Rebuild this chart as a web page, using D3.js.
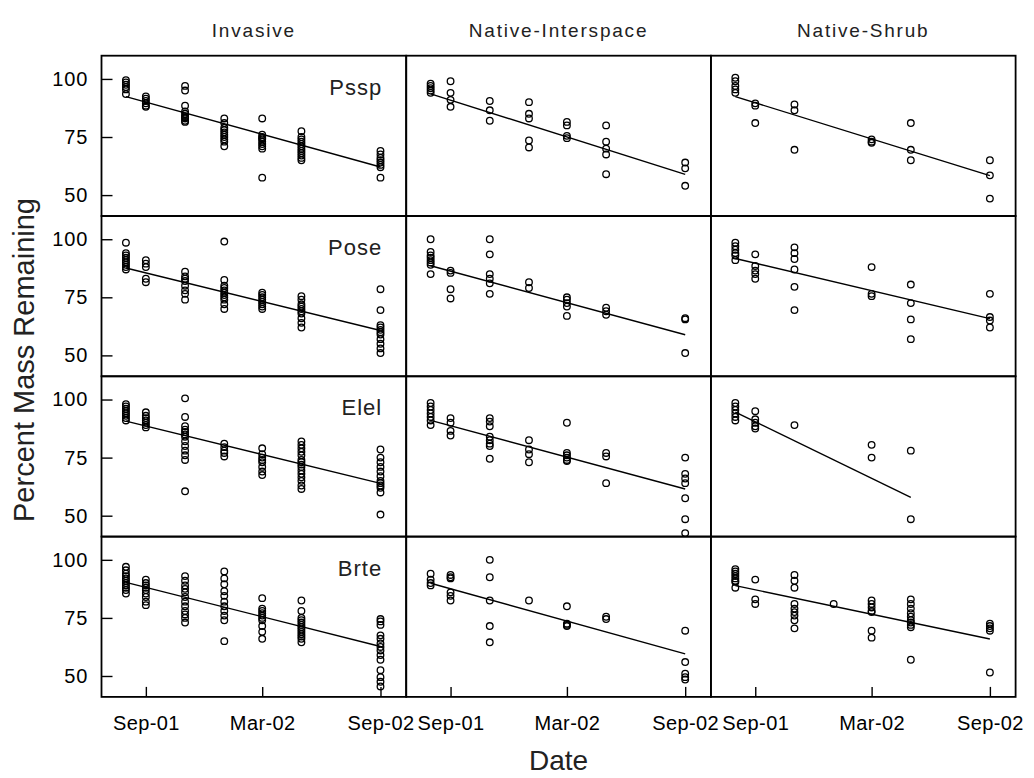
<!DOCTYPE html>
<html>
<head>
<meta charset="utf-8">
<script src="https://cdn.jsdelivr.net/npm/d3@7"></script>
<style>
    body { margin: 0; background: #fff; }
    svg text { font-family: "Liberation Sans", Arial, sans-serif; fill: #000; }
</style>
</head>
<body>
<svg id="chart" width="1034" height="778"></svg>
<script>

// sampling dates (index used in the panel arrays below)
let dates = ['2001-08-01', '2001-09-01', '2001-11-01', '2002-01-01', '2002-03-01', '2002-05-01', '2002-09-01'];

let habitats = ['Invasive', 'Native-Interspace', 'Native-Shrub'];
let species = ['Pssp', 'Pose', 'Elel', 'Brte'];

let y_ticks = [50, 75, 100];
let x_ticks = ['2001-09-01', '2002-03-01', '2002-09-01'];
let x_tick_labels = ['Sep-01', 'Mar-02', 'Sep-02'];

// each entry: [date index, percent mass remaining values]
let pssp_invasive = [
    [0, [99.5, 98.5, 97.5, 96.5, 95.5, 93.5]],
    [1, [92.5, 91.5, 90.5, 89.5, 88.5, 88]],
    [2, [97, 95, 88.5, 86, 85, 84, 83.5, 83, 82, 81.5]],
    [3, [83, 81, 79, 78, 77, 76, 75, 74, 73, 71]],
    [4, [83, 76, 75, 74.5, 74, 73, 72, 71, 70, 57.5]],
    [5, [77.5, 75, 74, 73, 72, 71, 70, 69, 68, 67, 66, 65]],
    [6, [69, 67.5, 66, 65, 64, 63, 62, 57.5]]
];
let pssp_interspace = [
    [0, [98, 97, 96, 95, 94]],
    [1, [99, 94, 91, 88]],
    [2, [90.5, 86.5, 82]],
    [3, [90, 85, 83, 73.5, 70.5]],
    [4, [81.5, 80, 75.5, 74.5]],
    [5, [80, 73, 70, 67.5, 59]],
    [6, [64, 61.5, 54]]
];
let pssp_shrub = [
    [0, [100.5, 99, 97, 95.5, 94]],
    [1, [89.5, 88.5, 81]],
    [2, [89, 86.5, 69.5]],
    [4, [74, 73, 72.5]],
    [5, [81, 69.5, 65]],
    [6, [65, 58.5, 48.5]]
];

let pose_invasive = [
    [0, [98.5, 94, 93, 92, 91, 90, 89, 88, 87]],
    [1, [91, 89.5, 88, 83, 81.5]],
    [2, [86, 84, 83, 82, 80, 78, 76.5, 74]],
    [3, [99, 82.5, 80, 79, 78, 77, 76, 75, 74, 72, 70]],
    [4, [77, 76, 75, 74, 73, 72, 71, 70]],
    [5, [75.5, 74, 72, 71, 70, 69, 68, 66, 64, 62]],
    [6, [78.5, 69.5, 63, 62, 61, 60, 59, 57, 55, 53, 51]]
];
let pose_interspace = [
    [0, [100, 94.5, 93, 92, 91, 90, 89, 85]],
    [1, [86.5, 85.5, 78.5, 74.5]],
    [2, [100, 93.5, 85, 83, 81, 76.5]],
    [3, [81.5, 79]],
    [4, [75, 74, 72.5, 71, 67]],
    [5, [70.5, 69, 67.5]],
    [6, [66, 65.5, 51]]
];
let pose_shrub = [
    [0, [98.5, 97, 95.5, 94, 93, 91]],
    [1, [93.5, 88.5, 86.5, 85, 83]],
    [2, [96.5, 94, 91.5, 87, 79.5, 69.5]],
    [4, [88, 76.5, 75.5]],
    [5, [80.5, 72.5, 65.5, 57]],
    [6, [76.5, 66.5, 65, 62]]
];

let elel_invasive = [
    [0, [98, 97, 96, 95, 94, 93, 92, 91]],
    [1, [94.5, 93, 92, 91, 90, 89, 88]],
    [2, [100.5, 92.5, 88.5, 87, 86, 85, 84, 82, 80, 78, 76, 74, 60.5]],
    [3, [81, 79.5, 78, 77, 75.5]],
    [4, [79, 76.5, 75, 74, 73, 71, 69, 67.5]],
    [5, [82, 80.5, 79, 77.5, 76, 74, 73, 72, 71, 69.5, 68, 66.5, 65, 63, 61.5]],
    [6, [78.5, 75, 73, 71, 69, 67, 65, 64, 63, 62, 60, 50.5]]
];
let elel_interspace = [
    [0, [98.5, 97, 95.5, 94, 92.5, 91, 89]],
    [1, [92, 90, 86.5, 84.5]],
    [2, [92, 90.5, 88.5, 84, 82.5, 81, 80, 74.5]],
    [3, [82.5, 78.5, 76.5, 73]],
    [4, [90, 77, 76, 75, 74, 73.5]],
    [5, [77, 75.5, 64]],
    [6, [75, 68, 66, 64, 57.5, 48.5, 42.5]]
];
let elel_shrub = [
    [0, [98.5, 97, 95.5, 94, 92.5, 91]],
    [1, [95, 91.5, 90, 88.5, 87.5]],
    [2, [89]],
    [4, [80.5, 75]],
    [5, [78, 48.5]]
];

let brte_invasive = [
    [0, [97, 95.5, 94, 93, 92, 91, 90, 89, 88, 87, 85.5]],
    [1, [91.5, 90, 89, 88, 87, 85.5, 84, 82, 80.5]],
    [2, [93, 91, 89, 87.5, 86, 84, 82, 80, 78, 76.5, 75, 73]],
    [3, [95, 92, 89.5, 86.5, 84.5, 82, 80, 78, 76, 74, 65]],
    [4, [83.5, 79, 78, 77, 76, 75, 74, 71.5, 69, 66]],
    [5, [82.5, 78, 75, 74, 73, 72, 71, 70, 69, 68, 67, 66, 64.5]],
    [6, [74.5, 73.5, 72, 67.5, 66, 64, 62.5, 61, 59, 57, 52.5, 49.5, 47.5, 45.5]]
];
let brte_interspace = [
    [0, [94, 91.5, 90, 89]],
    [1, [93.5, 92.5, 92, 86, 84.5, 82.5]],
    [2, [100, 92.5, 82.5, 71.5, 64.5]],
    [3, [82.5]],
    [4, [80, 72.5, 72, 71.5]],
    [5, [75.5, 74.5]],
    [6, [69.5, 56, 51, 49.5, 48.5]]
];
let brte_shrub = [
    [0, [96, 95, 94, 93, 92, 91, 90.5, 88]],
    [1, [91.5, 83, 81]],
    [2, [93.5, 91, 88, 81, 79, 77.5, 76, 74, 70.5]],
    [3, [81]],
    [4, [82.5, 81, 79.5, 78, 77.5, 69.5, 66.5]],
    [5, [83, 81, 79, 77, 75.5, 74, 73, 72, 71, 57]],
    [6, [72.5, 71.5, 70.5, 69.5, 51.5]]
];

// fitted lines: [first date index, last date index, start value, end value]
let fits = [
    [[0, 6, 92.4, 62.1], [0, 6, 93.6, 58.9], [0, 6, 92.4, 58.4]],
    [[0, 6, 87.6, 60.7], [0, 6, 88.6, 58.9], [0, 6, 91.7, 65.8]],
    [[0, 6, 90.7, 63.9], [0, 6, 91.0, 61.5], [0, 5, 94.6, 57.9]],
    [[0, 6, 90.3, 62.7], [0, 6, 89.9, 59.5], [0, 6, 88.9, 65.9]]
];

let panels = [
    [pssp_invasive, pssp_interspace, pssp_shrub],
    [pose_invasive, pose_interspace, pose_shrub],
    [elel_invasive, elel_interspace, elel_shrub],
    [brte_invasive, brte_interspace, brte_shrub]
];


let svg = d3.select('#chart'),
    frame_left = 101.5,  // frame left
    frame_top = 55.7,    // frame top
    pw = 304.7,          // panel width
    ph = 160.3;          // panel height

let parse = d3.timeParse('%Y-%m-%d');

let x = d3.scaleTime()
    .domain([parse('2001-06-24'), parse('2002-10-11')])
    .range([0, pw]);

let y = d3.scaleLinear()
    .domain([41, 110])
    .range([ph, 0]);

let line = d3.line()
    .x(d => x(d[0]))
    .y(d => y(d[1]));


panels.forEach(function (row, r) {

    row.forEach(function (data, c) {

        let g = svg.append('g')
            .attr('transform', 'translate(' + (frame_left + c * pw) + ',' + (frame_top + r * ph) + ')');

        // fitted line
        let f = fits[r][c];
        g.append('path')
            .attr('d', line([[parse(dates[f[0]]), f[2]], [parse(dates[f[1]]), f[3]]]))
            .attr('fill', 'none')
            .attr('stroke', 'black')
            .attr('stroke-width', 1.4);

        // observations
        let pts = [];
        data.forEach(function (d) {
            d[1].forEach(v => pts.push([parse(dates[d[0]]), v]));
        });

        g.selectAll('circle')
            .data(pts)
            .enter()
            .append('circle')
            .attr('cx', d => x(d[0]))
            .attr('cy', d => y(d[1]))
            .attr('r', 3.3)
            .attr('fill', 'none')
            .attr('stroke', 'black')
            .attr('stroke-width', 1.3);

        // y axis on first column only
        if (c === 0) {
            let ay = g.append('g')
                .call(d3.axisLeft(y)
                    .tickValues(y_ticks)
                    .tickSize(-11)
                    .tickPadding(13));
            ay.select('.domain').remove();
            ay.selectAll('line').attr('stroke-width', 1.4);
            ay.selectAll('text')
                .style('font-size', '20px')
                .style('letter-spacing', '1px')
                .style('font-family', '"Liberation Sans", Arial, sans-serif')
                .attr('fill', '#222');

            g.append('text')
                .attr('x', pw - 24)
                .attr('y', 39)
                .attr('text-anchor', 'end')
                .style('font-size', '22px')
                .style('letter-spacing', '1px')
                .style('fill', '#222')
                .text(species[r]);
        }

        // x axis on bottom row only
        if (r === panels.length - 1) {
            let ax = g.append('g')
                .attr('transform', 'translate(0,' + ph + ')')
                .call(d3.axisBottom(x)
                    .tickValues(x_ticks.map(parse))
                    .tickFormat((d, i) => x_tick_labels[i])
                    .tickSize(-10)
                    .tickPadding(19));
            ax.select('.domain').remove();
            ax.selectAll('line').attr('stroke-width', 1.4);
            ax.selectAll('text')
                .style('font-size', '20px')
                .style('letter-spacing', '0.4px')
                .style('font-family', '"Liberation Sans", Arial, sans-serif')
                .attr('fill', '#222');
        }

        // panel frame
        g.append('rect')
            .attr('width', pw)
            .attr('height', ph)
            .attr('fill', 'none')
            .attr('stroke', 'black')
            .attr('stroke-width', 1.8);

    });

});

// column titles
svg.selectAll('.col-title')
    .data(habitats)
    .enter()
    .append('text')
    .attr('class', 'col-title')
    .attr('x', (d, i) => frame_left + i * pw + pw / 2)
    .attr('y', 37)
    .attr('text-anchor', 'middle')
    .style('font-size', '19px')
    .style('letter-spacing', '1.8px')
    .style('fill', '#222')
    .text(d => d);

// axis titles
svg.append('text')
    .attr('transform', 'translate(34,360) rotate(-90)')
    .attr('text-anchor', 'middle')
    .style('font-size', '29px')
    .style('fill', '#222')
    .text('Percent Mass Remaining');

svg.append('text')
    .attr('x', frame_left + 1.5 * pw)
    .attr('y', 770)
    .attr('text-anchor', 'middle')
    .style('font-size', '28px')
    .style('fill', '#222')
    .text('Date');

</script>
</body>
</html>
